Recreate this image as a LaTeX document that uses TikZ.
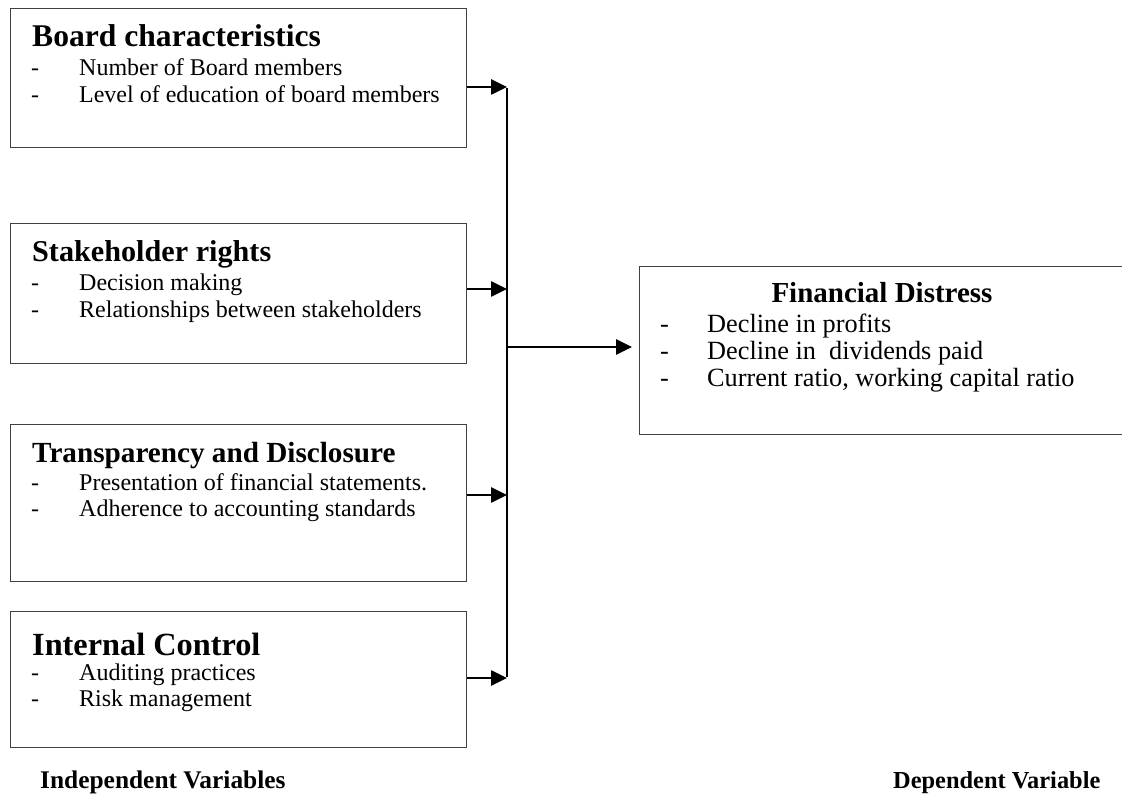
\documentclass[tikz,border=0pt]{standalone}
\usepackage{fontspec}
\setmainfont{Liberation Serif}
\usetikzlibrary{arrows.meta, positioning}

\begin{document}
\begin{tikzpicture}[
    x=1pt, y=-1pt,
    varbox/.style={draw=black!75, line width=1.4pt, anchor=north west, minimum width=456pt, inner sep=0pt},
    depbox/.style={draw=black!75, line width=1.4pt, anchor=north west, minimum width=520pt, minimum height=168pt, inner sep=0pt},
    head/.style={anchor=base west, inner sep=0pt, font=\bfseries},
    items/.style={anchor=base west, inner sep=0pt, font=\fontsize{24}{26.5}\selectfont},
    arr/.style={-{Triangle[length=16pt, width=15pt]}, line width=2.6pt},
    bus/.style={line width=2.6pt}
]
    \useasboundingbox (0,0) rectangle (1122,799);
    \clip (0,0) rectangle (1122,799);

    \node[varbox, minimum height=139pt] (board) at (10,8) {};
    \node[varbox, minimum height=140pt] (stake) at (10,223) {};
    \node[varbox, minimum height=157pt] (transp) at (10,424) {};
    \node[varbox, minimum height=136pt] (intctl) at (10,611) {};
    \node[depbox] (distress) at (639,266) {};

    \node[head, font=\bfseries\fontsize{31.6}{34}\selectfont] (boardT) at (32,47) {Board characteristics};
    \node[items] (boardL) at (31,76) {\begin{tabular}[t]{@{}p{48pt}@{}l@{}}-&Number of Board members\\-&Level of education of board members\end{tabular}};

    \node[head, font=\bfseries\fontsize{30.2}{33}\selectfont] (stakeT) at (32,262) {Stakeholder rights};
    \node[items] (stakeL) at (31,291) {\begin{tabular}[t]{@{}p{48pt}@{}l@{}}-&Decision making\\-&Relationships between stakeholders\end{tabular}};

    \node[head, font=\bfseries\fontsize{29.2}{32}\selectfont] (transpT) at (32,462) {Transparency and Disclosure};
    \node[items] (transpL) at (31,490) {\begin{tabular}[t]{@{}p{48pt}@{}l@{}}-&Presentation of financial statements.\\-&Adherence to accounting standards\end{tabular}};

    \node[head, font=\bfseries\fontsize{32.3}{35}\selectfont] (intctlT) at (32,655) {Internal Control};
    \node[items] (intctlL) at (31,680) {\begin{tabular}[t]{@{}p{48pt}@{}l@{}}-&Auditing practices\\-&Risk management\end{tabular}};

    \node[head, anchor=base, font=\bfseries\fontsize{29}{32}\selectfont] (distressT) at (882,303) {Financial Distress};
    \node[items, font=\fontsize{26.3}{27}\selectfont] (distressL) at (660,333) {\begin{tabular}[t]{@{}p{47pt}@{}l@{}}-&Decline in profits\\-&Decline in\ \ dividends paid\\-&Current ratio, working capital ratio\end{tabular}};

    \node[head, font=\bfseries\fontsize{25.4}{28}\selectfont] (indep) at (40,788) {Independent Variables};
    \node[head, font=\bfseries\fontsize{24.4}{27}\selectfont] (dep) at (893,788) {Dependent Variable};

    \coordinate (j1) at (507,87);
    \coordinate (j2) at (507,289);
    \coordinate (j3) at (507,495);
    \coordinate (j4) at (507,678);
    \coordinate (jm) at (507,347);

    \draw[bus] ([yshift=-1.3pt]j1) -- ([yshift=1.3pt]j4);
    \draw[arr] (board.east |- j1) -- (j1);
    \draw[arr] (stake.east |- j2) -- (j2);
    \draw[arr] (transp.east |- j3) -- (j3);
    \draw[arr] (intctl.east |- j4) -- (j4);
    \draw[arr, shorten >=7pt] (jm) -- (distress.west |- jm);
\end{tikzpicture}
\end{document}
